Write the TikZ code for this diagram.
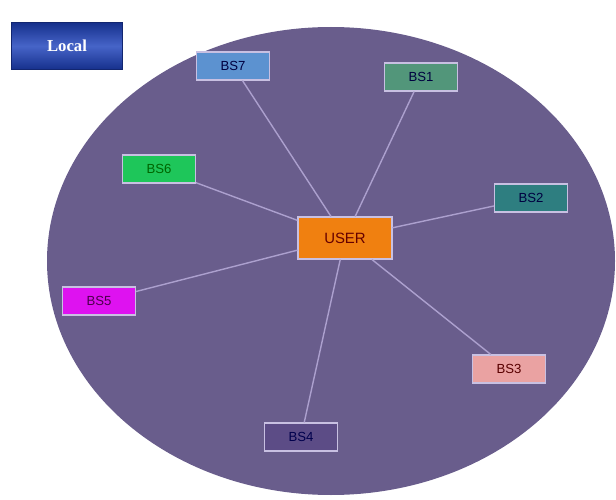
\documentclass[tikz,border=0pt]{standalone}
\usepackage{fontspec}
\setmainfont{Liberation Sans}
\newfontfamily\localfont{Liberation Serif}
\usepackage{xcolor}
\usetikzlibrary{positioning}

\definecolor{areabg}{RGB}{105,93,140}
\definecolor{linkcol}{RGB}{172,160,206}
\definecolor{edgecol}{RGB}{200,192,226}
\definecolor{localdark}{RGB}{22,48,140}
\definecolor{locallight}{RGB}{70,100,200}
\definecolor{bsblue}{RGB}{92,146,208}
\definecolor{bsgreen}{RGB}{82,150,122}
\definecolor{bslime}{RGB}{30,198,90}
\definecolor{bsteal}{RGB}{46,126,128}
\definecolor{bsmagenta}{RGB}{222,18,240}
\definecolor{bspink}{RGB}{234,162,162}
\definecolor{bsdark}{RGB}{92,76,134}
\definecolor{userorange}{RGB}{240,128,16}

\begin{document}
\begin{tikzpicture}[
  station/.style={rectangle,draw=edgecol,line width=0.6pt,inner sep=0pt,
    minimum width=1.46cm,minimum height=0.56cm,font=\fontsize{7.5}{9}\selectfont,text=black!75!blue},
  link/.style={draw=linkcol,line width=0.8pt}]
\useasboundingbox (0,0) rectangle (12.32,9.98);

% coverage area
\fill[areabg] (6.62,4.76) ellipse [x radius=5.68cm, y radius=4.68cm];

\node[rectangle,inner sep=0pt,minimum width=2.22cm,minimum height=0.94cm,
  top color=localdark,bottom color=localdark,middle color=locallight,
  draw=localdark!80!black,line width=0.4pt,text=white,
  font=\localfont\bfseries\fontsize{9.5}{11}\selectfont] (local) at (1.34,9.06) {Local};

% user and base stations
\node[rectangle,draw=edgecol,line width=0.6pt,fill=userorange,inner sep=0pt,
  minimum width=1.88cm,minimum height=0.84cm,text=red!40!black,
  font=\fontsize{8.5}{10}\selectfont] (user) at (6.90,5.22) {USER};
\node[station,fill=bsblue] (bs7) at (4.66,8.66) {BS7};
\node[station,fill=bsgreen] (bs1) at (8.42,8.44) {BS1};
\node[station,fill=bslime,text=black!60!green] (bs6) at (3.18,6.60) {BS6};
\node[station,fill=bsteal] (bs2) at (10.62,6.02) {BS2};
\node[station,fill=bsmagenta,text=black!40!violet] (bs5) at (1.98,3.96) {BS5};
\node[station,fill=bspink,text=red!35!black] (bs3) at (10.18,2.60) {BS3};
\node[station,fill=bsdark,text=black!70!blue] (bs4) at (6.02,1.24) {BS4};

\draw[link] (bs7) -- (user);
\draw[link] (bs1) -- (user);
\draw[link] (bs6) -- (user);
\draw[link] (bs2) -- (user);
\draw[link] (bs5) -- (user);
\draw[link] (bs3) -- (user);
\draw[link] (bs4) -- (user);
\end{tikzpicture}
\end{document}
